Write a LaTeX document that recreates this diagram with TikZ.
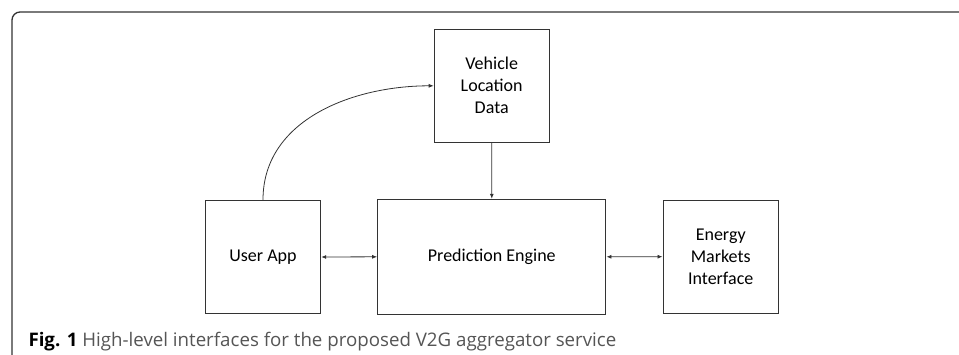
\documentclass[tikz,border=0pt]{standalone}
\usepackage{fontspec}
\setmainfont{Carlito}
\newfontfamily\capfont{Open Sans}
\usetikzlibrary{arrows.meta}
\definecolor{linec}{HTML}{333333}
\definecolor{capgray}{HTML}{555555}
\begin{document}
\begin{tikzpicture}[x=1pt,y=-1pt,
  blk/.style={draw=linec,line width=1pt,inner sep=0pt,align=center,font=\fontsize{18}{22}\selectfont},
  conn/.style={draw=linec,line width=0.8pt,-{Latex[length=5pt,width=4pt]}},
  biconn/.style={draw=linec,line width=0.8pt,{Latex[length=5pt,width=4pt]}-{Latex[length=5pt,width=4pt]}}]
\useasboundingbox (0,0) rectangle (959,354);
\draw[line width=1.3pt,draw=linec,rounded corners=8pt] (12,360) -- (12,12) -- (970,12);
\node[blk,minimum width=115pt,minimum height=113pt] (vld) at (491.7,85.8) {Vehicle\\Location\\Data};
\node[blk,minimum width=115.4pt,minimum height=113.4pt] (ua) at (263,257) {User App};
\node[blk,minimum width=228.3pt,minimum height=115pt] (pe) at (491.8,256.8) {Prediction Engine};
\node[blk,minimum width=115.3pt,minimum height=113.3pt] (emi) at (720.7,256.7) {Energy\\Markets\\Interface};
\draw[biconn] (ua.east) -- (pe.west);
\draw[biconn] (pe.east) -- (emi.west);
\draw[conn] (vld.south) -- (pe.north);
\draw[conn] (ua.north) to[out=90,in=180] (vld.west);
\node[anchor=base west,inner sep=0pt,font=\capfont\fontsize{18.7}{22}\selectfont,text=capgray] (cap) at (28.3,346.7) {\textcolor{black}{\bfseries Fig. 1} High-level interfaces for the proposed V2G aggregator service};
\end{tikzpicture}
\end{document}
